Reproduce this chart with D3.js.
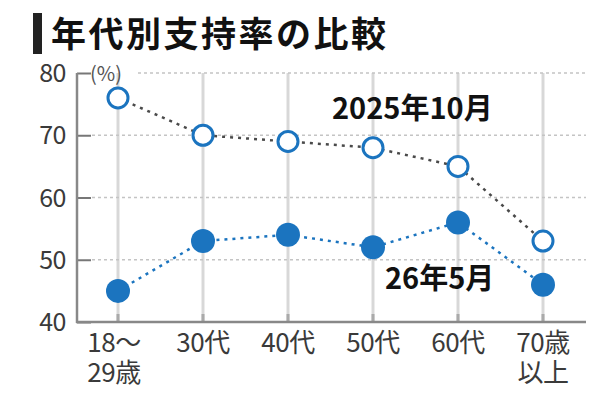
<!DOCTYPE html>
<html>
<head>
<meta charset="utf-8">
<script src="https://cdn.jsdelivr.net/npm/d3@7"></script>
<style>
  body { margin: 0; background: #fff; }
  text { font-family: "Noto Sans CJK JP", "Noto Sans", sans-serif; }
</style>
</head>
<body>
<div id="chart"></div>
<script>
// data
const categories = ["18～\n29歳", "30代", "40代", "50代", "60代", "70歳\n以上"];
const oct2025 = [76, 70, 69, 68, 65, 53];
const may2026 = [45, 53, 54, 52, 56, 46];
const yTicks = [40, 50, 60, 70, 80];

const width = 600, height = 403;
const blue = "#1b74bf";

let svg = d3.select("#chart")
    .append("svg")
    .attr("width", width)
    .attr("height", height);

let x = d3.scalePoint()
    .domain(categories)
    .range([118, 543]);

let y = d3.scaleLinear()
    .domain([40, 80])
    .range([322, 73]);

// title
svg.append("rect")
    .attr("x", 33).attr("y", 13)
    .attr("width", 9).attr("height", 41)
    .attr("fill", "#222");
svg.append("text")
    .attr("x", 51).attr("y", 47)
    .style("font-size", "35px")
    .style("font-weight", 700)
    .style("letter-spacing", "2.5px")
    .attr("fill", "#111")
    .text("年代別支持率の比較");

// vertical grid
svg.append("g").selectAll("line").data(categories).enter()
    .append("line")
    .attr("x1", d => x(d)).attr("x2", d => x(d))
    .attr("y1", y(80)).attr("y2", y(40))
    .attr("stroke", "#d8d8d8")
    .attr("stroke-width", 3);
svg.append("g").selectAll("line").data(categories).enter()
    .append("line")
    .attr("x1", d => x(d)).attr("x2", d => x(d))
    .attr("y1", y(40) - 8).attr("y2", y(40))
    .attr("stroke", "#aaa")
    .attr("stroke-width", 3);

// horizontal dotted grid
svg.append("g").selectAll("line").data(yTicks.filter(d => d > 40)).enter()
    .append("line")
    .attr("x1", d => d === 80 ? 138 : 92).attr("x2", 586)
    .attr("y1", d => y(d)).attr("y2", d => y(d))
    .attr("stroke", "#c4c4c4")
    .attr("stroke-width", 1.5)
    .attr("stroke-dasharray", "3,3");

// y axis
let yAxis = svg.append("g")
    .attr("transform", "translate(77,0)")
    .call(d3.axisRight(y).tickValues(yTicks).tickSize(14).tickFormat(""));
yAxis.select(".domain").remove();
yAxis.selectAll("line").attr("stroke", "#777").attr("stroke-width", 2);

svg.append("line")
    .attr("x1", 77).attr("x2", 77)
    .attr("y1", y(80)).attr("y2", y(40) + 1)
    .attr("stroke", "#888").attr("stroke-width", 2.5);
svg.append("line")
    .attr("x1", 76).attr("x2", 586)
    .attr("y1", y(40)).attr("y2", y(40))
    .attr("stroke", "#888").attr("stroke-width", 2.5);

svg.append("g").selectAll("text").data(yTicks).enter()
    .append("text")
    .attr("x", 66)
    .attr("y", d => y(d) + 9)
    .style("text-anchor", "end")
    .style("font-size", "25px")
    .style("letter-spacing", "-0.5px")
    .attr("fill", "#3a3a3a")
    .text(d => d);

svg.append("text")
    .attr("x", 90).attr("y", 81)
    .style("font-size", "20px")
    .attr("fill", "#555")
    .text("(%)");

// x labels, one text per line
let xLabelLines = [];
categories.forEach((c, i) => {
    c.split("\n").forEach((p, j) => xLabelLines.push({ cat: c, i: i, j: j, t: p }));
});

svg.append("g").selectAll("text").data(xLabelLines).enter()
    .append("text")
    .attr("x", d => x(d.cat) + (d.i === 0 ? -4 : 0))
    .attr("y", d => 352 + d.j * 30)
    .style("text-anchor", "middle")
    .style("font-size", "26px")
    .style("letter-spacing", "-0.5px")
    .attr("fill", "#3a3a3a")
    .text(d => d.t);

// lines
let line = d3.line()
    .x((d, i) => x(categories[i]))
    .y(d => y(d));

svg.append("path")
    .datum(oct2025)
    .attr("d", line)
    .attr("fill", "none")
    .attr("stroke", "#4a4a4a")
    .attr("stroke-width", 2.5)
    .attr("stroke-dasharray", "3,5");

svg.append("path")
    .datum(may2026)
    .attr("d", line)
    .attr("fill", "none")
    .attr("stroke", blue)
    .attr("stroke-width", 2.5)
    .attr("stroke-dasharray", "3,5");

// markers
svg.append("g").selectAll("circle").data(oct2025).enter()
    .append("circle")
    .attr("cx", (d, i) => x(categories[i]))
    .attr("cy", d => y(d))
    .attr("r", 10)
    .attr("fill", "#fff")
    .attr("stroke", blue)
    .attr("stroke-width", 3);

svg.append("g").selectAll("circle").data(may2026).enter()
    .append("circle")
    .attr("cx", (d, i) => x(categories[i]))
    .attr("cy", d => y(d))
    .attr("r", 12)
    .attr("fill", blue);

// series labels
svg.append("text")
    .attr("x", 332).attr("y", 119)
    .style("font-size", "29px")
    .style("font-weight", 700)
    .attr("fill", "#111")
    .text("2025年10月");

svg.append("text")
    .attr("x", 385).attr("y", 289)
    .style("font-size", "29px")
    .style("font-weight", 700)
    .attr("fill", "#111")
    .text("26年5月");
</script>
</body>
</html>
